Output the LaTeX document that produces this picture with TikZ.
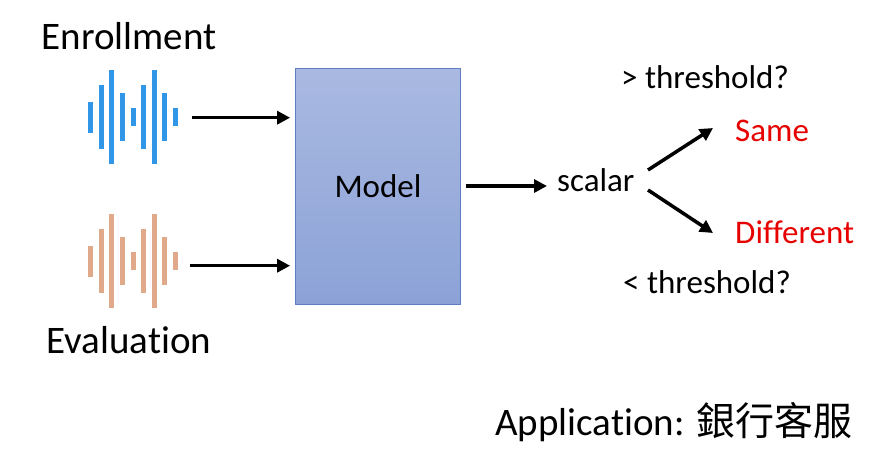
\documentclass[tikz,border=0pt]{standalone}
\usepackage{fontspec}
\setmainfont{Carlito}[Ligatures=NoCommon]
\newfontfamily\cjk{Noto Sans CJK TC}
\usetikzlibrary{arrows.meta}
\definecolor{waveblue}{HTML}{2F96E8}
\definecolor{waveorange}{HTML}{DFA98A}
\definecolor{modeltop}{HTML}{A9B9E1}
\definecolor{modelbot}{HTML}{8CA2D7}
\definecolor{modelline}{HTML}{5F7DC2}
\definecolor{outred}{HTML}{E60000}
\begin{document}
\begin{tikzpicture}[>={Triangle[length=13pt,width=13pt]},x=1pt,y=-1pt,line join=round,
    txt/.style={inner sep=0pt,font=\fontsize{33}{38}\selectfont},
    big/.style={inner sep=0pt,font=\fontsize{39}{44}\selectfont},
    arr/.style={->,line width=3.5pt,shorten >=5pt,shorten <=5pt}]
    \useasboundingbox (0,0) rectangle (891,461);
    % waveforms: offset / half height
    \foreach \dx/\h in {0/15.5,10.6/31.7,21.2/47,31.8/24,42.4/9,53/31.7,63.6/47,74.2/24,84.8/9}{
        \fill[waveblue] (88.2+\dx,117-\h) rectangle (93.2+\dx,117+\h);
        \fill[waveorange] (88.2+\dx,261-\h) rectangle (93.2+\dx,261+\h);
    }
    \coordinate (wave1) at (187,117.7);
    \coordinate (wave2) at (185,265.7);
    \coordinate (scin) at (547,186);
    \node[big,anchor=base] (enroll) at (129,49.3) {Enrollment};
    \node[big,anchor=base] (evalu) at (129,353.3) {Evaluation};
    \node[txt,draw=modelline,line width=0.8pt,top color=modeltop,bottom color=modelbot,
        minimum width=165pt,minimum height=236pt] (model) at (378,186.3) {Model};
    \node[txt,anchor=base west] (scalar) at (557,191.7) {scalar};
    \node[txt,anchor=base west,text=outred] (same) at (735,141.7) {Same};
    \node[txt,anchor=base west,text=outred] (diff) at (735,243.3) {Different};
    \node[txt,anchor=base west] (gt) at (621,88.3) {> threshold?};
    \node[txt,anchor=base west] (lt) at (623,293.3) {< threshold?};
    \node[big,anchor=base west] (app) at (495,435) {Application: {\cjk 銀行客服}};
    \draw[arr] (wave1) -- (wave1-|model.west);
    \draw[arr] (wave2) -- (wave2-|model.west);
    \draw[arr,shorten >=0pt] (model.east|-scin) -- (scin);
    \draw[->,line width=3.5pt] (648,170) -- (713,128);
    \draw[->,line width=3.5pt] (648,190) -- (713,233);
\end{tikzpicture}
\end{document}
